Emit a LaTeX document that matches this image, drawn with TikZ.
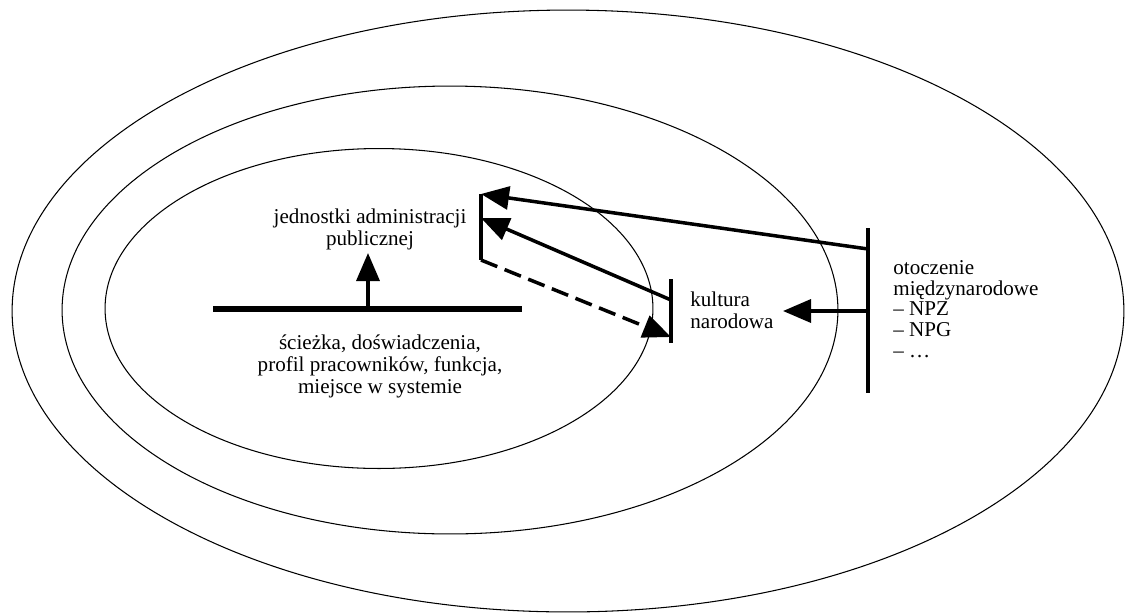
\documentclass[tikz,border=0pt]{standalone}
\usepackage{fontspec}
\setmainfont{Liberation Serif}
\usetikzlibrary{arrows.meta}

\begin{document}
\begin{tikzpicture}[x=0.02cm, y=-0.02cm,
		ring/.style={line width=0.6pt},
		bar/.style={line width=2.8pt},
		bigtip/.style={-{Triangle[length=0.56cm, width=0.46cm]}, line width=2pt},
		lbl/.style={font=\fontsize{12}{12.5}\selectfont, inner sep=0pt}]
			\useasboundingbox (0,0) rectangle (1126,613);
			\draw[ring] (568,311) ellipse [x radius=11.12cm, y radius=6.02cm];
			\draw[ring] (450,310) ellipse [x radius=7.76cm, y radius=4.48cm];
			\draw[ring] (379,308.5) ellipse [x radius=5.48cm, y radius=3.2cm];
			\coordinate (jaT) at (481,194);
			\coordinate (jaM) at (481,218);
			\coordinate (jaB) at (481,260);
			\coordinate (bsL) at (213,309);
			\coordinate (bsM) at (368,309);
			\coordinate (bsR) at (522,309);
			\coordinate (upT) at (368,253);
			\coordinate (knT) at (671,279);
			\coordinate (knA) at (671,300);
			\coordinate (knD) at (671,337);
			\coordinate (knB) at (671,343);
			\coordinate (knR) at (783,311);
			\coordinate (otT) at (868,228);
			\coordinate (otA) at (868,249);
			\coordinate (otC) at (868,311);
			\coordinate (otB) at (868,393);
			\draw[bar] (jaT) -- (jaB);
			\draw[bar, line width=3pt] (bsL) -- (bsR);
			\draw[bar] (knT) -- (knB);
			\draw[bar] (otT) -- (otB);
			\draw[bigtip] (bsM) -- (upT);
			\draw[bigtip] (otA) -- (jaT);
			\draw[bigtip] (knA) -- (jaM);
			\draw[bigtip, dash pattern=on 10pt off 4.5pt] (jaB) -- (knD);
			\draw[bigtip] (otC) -- (knR);
			\node[lbl, align=center](JA) at (370,229){jednostki administracji\\publicznej};
			\node[lbl, align=center](SC) at (380,366){ścieżka, doświadczenia,\\profil pracowników, funkcja,\\miejsce w systemie};
			\node[lbl, align=left, anchor=west](KN) at (690,310){kultura\\narodowa};
			\node[lbl, align=left, anchor=west, font=\fontsize{12}{11.8}\selectfont](OT) at (893,309){otoczenie\\międzynarodowe\\\textendash\ NPZ\\\textendash\ NPG\\\textendash\ …};
		\end{tikzpicture}
\end{document}
